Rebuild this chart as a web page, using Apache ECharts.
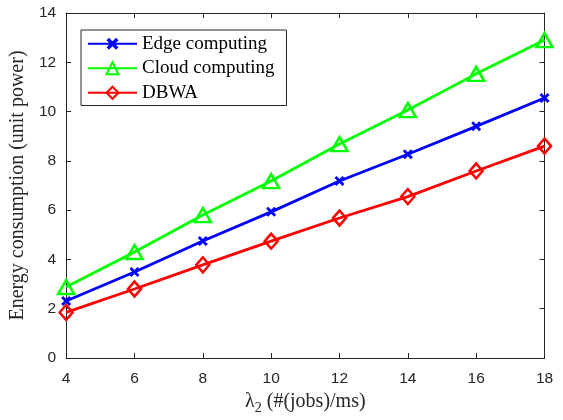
<!DOCTYPE html>
<html>
<head>
<meta charset="utf-8">
<script src="https://cdn.jsdelivr.net/npm/echarts@6/dist/echarts.min.js"></script>
<style>html,body{margin:0;padding:0;background:#fff}#c{width:563px;height:420px}</style>
</head>
<body>
<div id="c"></div>
<script>
var lambdaValues = [4, 6, 8, 10, 12, 14, 16, 18];
var edgeComputing = [2.31, 3.49, 4.75, 5.93, 7.18, 8.27, 9.40, 10.55];
var cloudComputing = [2.88, 4.30, 5.80, 7.18, 8.68, 10.06, 11.53, 12.90];
var dbwa = [1.85, 2.80, 3.78, 4.74, 5.68, 6.55, 7.59, 8.60];
var seriesNames = ['Edge computing', 'Cloud computing', 'DBWA'];
var yTitle = 'Energy consumption (unit power)';

function pairs(ys) { return lambdaValues.map(function (x, i) { return [x, ys[i]]; }); }

var axisColor = '#262626';
var chart = echarts.init(document.getElementById('c'), null, { renderer: 'canvas' });
var xCommon = {
  type: 'value', min: 4, max: 18, interval: 2,
  axisLine: { show: true, onZero: false, lineStyle: { color: axisColor, width: 1 } },
  axisTick: { show: true, inside: true, length: 5, lineStyle: { color: axisColor } },
  splitLine: { show: false }
};
var yCommon = {
  type: 'value', min: 0, max: 14, interval: 2,
  axisLine: { show: true, onZero: false, lineStyle: { color: axisColor, width: 1 } },
  axisTick: { show: true, inside: true, length: 5, lineStyle: { color: axisColor } },
  splitLine: { show: false }
};
var xSymbol = 'path://M0,2L2,0L5,3L8,0L10,2L7,5L10,8L8,10L5,7L2,10L0,8L3,5Z';

chart.setOption({
  animation: false,
  backgroundColor: '#fff',
  grid: { left: 64, right: 18.5, top: 13, bottom: 61.5, show: false },
  legend: {
    orient: 'vertical', left: 81, top: 30,
    padding: [4, 12, 3, 6],
    itemGap: 5, itemWidth: 49, itemHeight: 15,
    borderColor: axisColor, borderWidth: 1, backgroundColor: '#fff',
    textStyle: { fontFamily: 'Liberation Serif', fontSize: 19, color: '#000', lineHeight: 19.5 },
    data: seriesNames
  },
  xAxis: [
    Object.assign({}, xCommon, {
      position: 'bottom',
      axisLabel: { show: true, margin: 13, fontFamily: 'Liberation Sans', fontSize: 15.5, color: axisColor },
      name: '{l|λ}{s|2}{l| (#(jobs)/ms)}', nameLocation: 'middle', nameGap: 31,
      nameTextStyle: {
        rich: {
          l: { fontFamily: 'Liberation Serif', fontSize: 20, color: axisColor },
          s: { fontFamily: 'Liberation Serif', fontSize: 14, color: axisColor, verticalAlign: 'bottom', padding: [12, 0, 0, 0] }
        }
      }
    }),
    Object.assign({}, xCommon, { position: 'top', axisLabel: { show: false } })
  ],
  yAxis: [
    Object.assign({}, yCommon, {
      position: 'left',
      axisLabel: { show: true, margin: 10, fontFamily: 'Liberation Sans', fontSize: 15.5, color: axisColor },
      name: yTitle, nameLocation: 'middle', nameGap: 32,
      nameTextStyle: { fontFamily: 'Liberation Serif', fontSize: 20, color: axisColor }
    }),
    Object.assign({}, yCommon, { position: 'right', axisLabel: { show: false } })
  ],
  series: [
    {
      name: seriesNames[0], type: 'line', data: pairs(edgeComputing),
      lineStyle: { color: '#0000ff', width: 2.8 },
      itemStyle: { color: '#0000ff' },
      symbol: xSymbol, symbolSize: 10, showAllSymbol: true
    },
    {
      name: seriesNames[1], type: 'line', data: pairs(cloudComputing),
      lineStyle: { color: '#00ff00', width: 2.8 },
      itemStyle: { color: 'rgba(0,0,0,0)', borderColor: '#00ff00', borderWidth: 2.5 },
      symbol: 'triangle', symbolSize: [16, 14], showAllSymbol: true
    },
    {
      name: seriesNames[2], type: 'line', data: pairs(dbwa),
      lineStyle: { color: '#ff0000', width: 2.8 },
      itemStyle: { color: 'rgba(0,0,0,0)', borderColor: '#ff0000', borderWidth: 2.5 },
      symbol: 'diamond', symbolSize: [13, 15], showAllSymbol: true
    }
  ]
});
</script>
</body>
</html>
